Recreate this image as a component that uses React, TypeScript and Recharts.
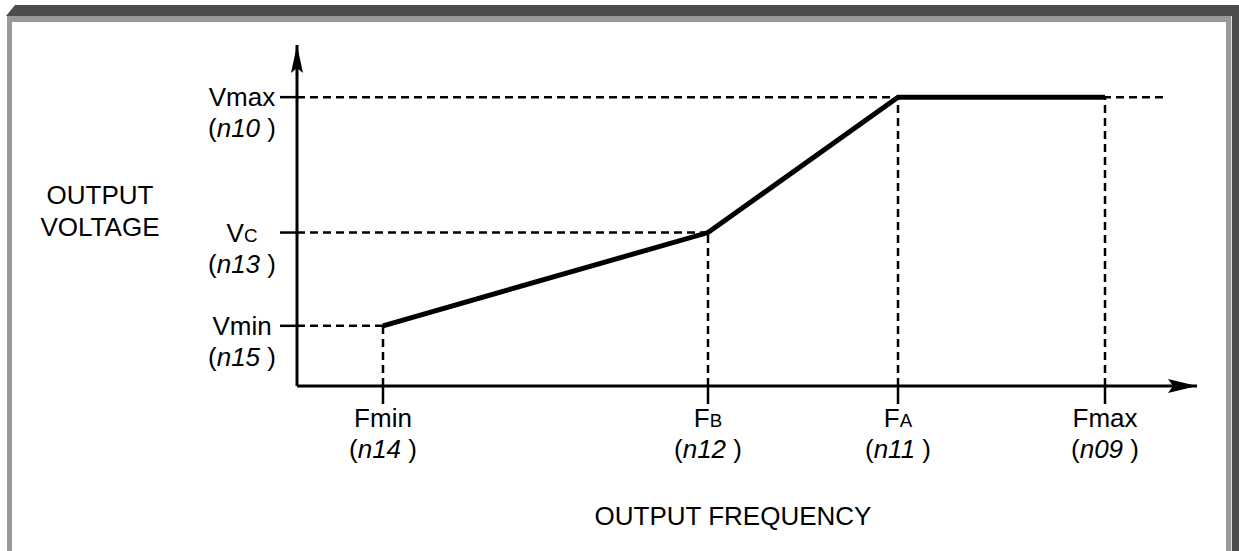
import React from 'react'
import {
  LineChart,
  Line,
  XAxis,
  YAxis,
  ReferenceLine,
  ReferenceDot,
} from 'recharts'

// V/F pattern, values in arbitrary units
const F_TICKS = [86, 411, 601, 808]
const F_NAMES = [
  ['Fmin', ''],
  ['F', 'B'],
  ['F', 'A'],
  ['Fmax', ''],
]
const F_PARAMS = ['n14', 'n12', 'n11', 'n09']

const V_TICKS = [60, 153, 288]
const V_NAMES = [
  ['Vmin', ''],
  ['V', 'C'],
  ['Vmax', ''],
]
const V_PARAMS = ['n15', 'n13', 'n10']

const F_MAX_AXIS = 900
const V_MAX_AXIS = 340
const V_DASH_END = 868

const pattern = [
  { f: F_TICKS[0], v: V_TICKS[0] },
  { f: F_TICKS[1], v: V_TICKS[1] },
  { f: F_TICKS[2], v: V_TICKS[2] },
  { f: F_TICKS[3], v: V_TICKS[2] },
]

const FONT = '"Liberation Sans", Arial, sans-serif'
const FS = 26
const DASH = '8 5'

const Label2 = ({ x, y, name, sub, param }) => (
  <g>
    <text x={x} y={y} dy="0.35em" textAnchor="middle" fontFamily={FONT} fontSize={FS} fill="#000">
      {name}
      {sub && <tspan fontSize={FS * 0.72}>{sub}</tspan>}
    </text>
    <text x={x} y={y + 31} dy="0.35em" textAnchor="middle" fontFamily={FONT} fontSize={FS} fill="#000">
      (<tspan fontStyle="italic">{param}</tspan> )
    </text>
  </g>
)

const XTick = (props) => {
  const { x, y, index } = props
  const [name, sub] = F_NAMES[index]
  return <Label2 x={x} y={y + 12} name={name} sub={sub} param={F_PARAMS[index]} />
}

const YTick = (props) => {
  const { x, y, index } = props
  const [name, sub] = V_NAMES[index]
  return <Label2 x={x - 36} y={y} name={name} sub={sub} param={V_PARAMS[index]} />
}

const ArrowRight = (props) => {
  const { cx, cy } = props
  return (
    <path
      d={`M${cx},${cy} L${cx - 29},${cy - 7} L${cx - 24},${cy} L${cx - 29},${cy + 7} Z`}
      fill="#000"
    />
  )
}

const ArrowUp = (props) => {
  const { cx, cy } = props
  return (
    <path
      d={`M${cx},${cy} L${cx - 6},${cy + 28} L${cx},${cy + 23} L${cx + 6},${cy + 28} Z`}
      fill="#000"
    />
  )
}

const Frame = () => (
  <svg width={1239} height={551} style={{ position: 'absolute', left: 0, top: 0 }}>
    <polygon points="6,16 15,5 1239,5 1239,551 1232,551 1232,16" fill="#4d4d4d" />
    <rect x={7} y={16} width={1225} height={6} fill="#999" />
    <rect x={7} y={16} width={5} height={535} fill="#999" />
    <rect x={1226} y={16} width={5} height={535} fill="#999" />
    <rect x={1231} y={16} width={1} height={535} fill="#ddd" />
  </svg>
)

export default function App() {
  return (
    <div style={{ position: 'absolute', left: 0, top: 0, width: 1239, height: 551, background: '#fff' }}>
      <Frame />
      <div style={{ position: 'absolute', left: 0, top: 0 }}>
        <LineChart
          width={1239}
          height={551}
          data={pattern}
          margin={{ top: 45, right: 42, bottom: 135, left: 217 }}
        >
          <XAxis
            dataKey="f"
            type="number"
            domain={[0, F_MAX_AXIS]}
            ticks={F_TICKS}
            interval={0}
            height={30}
            tickSize={18}
            tickLine={{ stroke: '#000', strokeWidth: 2.5 }}
            axisLine={{ stroke: '#000', strokeWidth: 3 }}
            tick={<XTick />}
          />
          <YAxis
            dataKey="v"
            type="number"
            domain={[0, V_MAX_AXIS]}
            ticks={V_TICKS}
            interval={0}
            width={80}
            tickSize={17}
            tickLine={{ stroke: '#000', strokeWidth: 2.5 }}
            axisLine={{ stroke: '#000', strokeWidth: 3 }}
            tick={<YTick />}
          />
          {/* horizontal guides */}
          <ReferenceLine
            segment={[{ x: 0, y: V_TICKS[0] }, { x: F_TICKS[0], y: V_TICKS[0] }]}
            stroke="#000"
            strokeWidth={2.5}
            strokeDasharray={DASH}
          />
          <ReferenceLine
            segment={[{ x: 0, y: V_TICKS[1] }, { x: F_TICKS[1], y: V_TICKS[1] }]}
            stroke="#000"
            strokeWidth={2.5}
            strokeDasharray={DASH}
          />
          <ReferenceLine
            segment={[{ x: 0, y: V_TICKS[2] }, { x: V_DASH_END, y: V_TICKS[2] }]}
            stroke="#000"
            strokeWidth={2.5}
            strokeDasharray={DASH}
          />
          {/* vertical guides */}
          {pattern.map((p, i) => (
            <ReferenceLine
              key={`vg-${i}`}
              segment={[{ x: p.f, y: 0 }, { x: p.f, y: p.v }]}
              stroke="#000"
              strokeWidth={2.5}
              strokeDasharray={DASH}
            />
          ))}
          <ReferenceDot x={F_MAX_AXIS} y={0} r={1} shape={<ArrowRight />} />
          <ReferenceDot x={0} y={V_MAX_AXIS} r={1} shape={<ArrowUp />} />
          <Line
            dataKey="v"
            stroke="#000"
            strokeWidth={5}
            strokeLinejoin="miter"
            dot={false}
            activeDot={false}
            isAnimationActive={false}
          />
          <text x={100} y={195} dy="0.35em" textAnchor="middle" fontFamily={FONT} fontSize={FS} fill="#000">
            OUTPUT
          </text>
          <text x={100} y={227} dy="0.35em" textAnchor="middle" fontFamily={FONT} fontSize={FS} fill="#000">
            VOLTAGE
          </text>
          <text x={733} y={516} dy="0.35em" textAnchor="middle" fontFamily={FONT} fontSize={FS} fill="#000">
            OUTPUT FREQUENCY
          </text>
        </LineChart>
      </div>
    </div>
  )
}
